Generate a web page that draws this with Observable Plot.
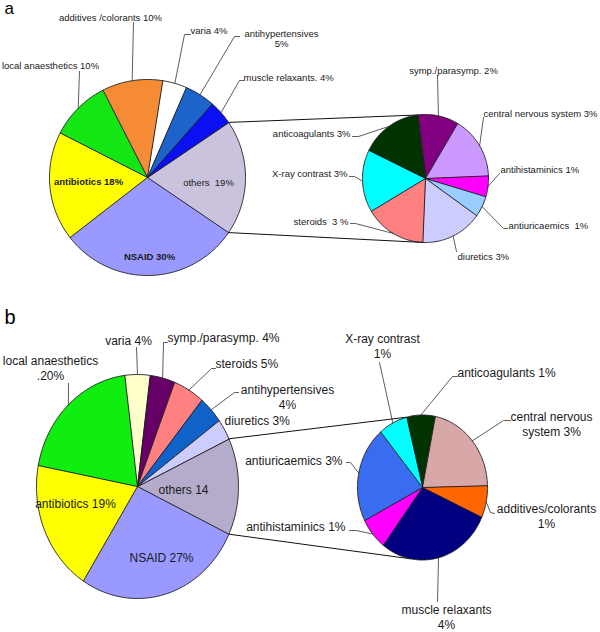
<!DOCTYPE html>
<html><head><meta charset="utf-8">
<script src="https://cdn.jsdelivr.net/npm/d3@7"></script>
<script src="https://cdn.jsdelivr.net/npm/@observablehq/plot@0.6"></script>
<style>html,body{margin:0;padding:0;background:#fff}</style>
</head><body><div id="chart"></div>
<script>
// ---------------- DATA ----------------
// Panel a – main pie (clockwise, starting with "others")
const aMainCategories = ["others","NSAID","antibiotics","local anaesthetics","additives/colorants","varia","antihypertensives","muscle relaxants"];
const aMainValues = [19,30,18,10,10,4,5,4];
const aMainLabels = ["others  19%","NSAID 30%","antibiotics 18%","local anaesthetics 10%","additives /colorants 10%","varia 4%","antihypertensives\n5%","muscle relaxants. 4%"];
// Panel a – secondary pie (breakdown of "others")
const aSubCategories = ["symp./parasymp.","central nervous system","antihistaminics","antiuricaemics","diuretics","steroids","X-ray contrast","anticoagulants"];
const aSubValues = [2,3,1,1,3,3,3,3];
const aSubLabels = ["symp./parasymp. 2%","central nervous system 3%","antihistaminics 1%","antiuricaemics  1%","diuretics 3%","steroids  3 %","X-ray contrast 3%","anticoagulants 3%"];
// Panel b – main pie
const bMainCategories = ["others","NSAID","antibiotics","local anaesthetics","varia","symp./parasymp.","steroids","antihypertensives","diuretics"];
const bMainValues = [14,27,19,20,4,4,5,4,3];
const bMainLabels = ["others 14","NSAID 27%","antibiotics 19%","local anaesthetics\n.20%","varia 4%","symp./parasymp. 4%","steroids 5%","antihypertensives\n4%","diuretics 3%"];
// Panel b – secondary pie
const bSubCategories = ["anticoagulants","central nervous system","additives/colorants","muscle relaxants","antihistaminics","antiuricaemics","X-ray contrast"];
const bSubValues = [1,3,1,4,1,3,1];
const bSubLabels = ["anticoagulants 1%","central nervous\nsystem 3%","additives/colorants\n1%","muscle relaxants\n4%","antihistaminics 1%","antiuricaemics 3%","X-ray contrast\n1%"];

// ---------------- STYLES ----------------
const aMainColors = ["#CBC3DD","#9999FF","#FFFF00","#14E614","#F68B35","#FFFFFF","#1C64C9","#0A10F2"];
const aSubColors  = ["#800080","#CC99FF","#FF00FF","#99CCFF","#CCCCFF","#FF8080","#00FFFF","#003300"];
const bMainColors = ["#B4ACCA","#9999FF","#FFFF00","#10EE10","#FFFFCC","#660066","#FF8080","#0F62C8","#CCCCFF"];
const bSubColors  = ["#003300","#D8A8A8","#FF6600","#000080","#FF00FF","#3A6CF2","#00FFFF"];

// geometry (pixels) – main pies put "others" centred on the right
const geom = {
  aMain: {cx:147, cy:177, rx:98, ry:98},
  aSub:  {cx:425, cy:178, rx:63, ry:64, start:-7.1},
  bMain: {cx:137, cy:486, rx:101, ry:112},
  bSub:  {cx:422, cy:487, rx:65, ry:72.5, start:-14.3}
};

// label layout: [x, y, anchor, bold, leader points (label side)]
const aMainLayout = [
  [208,182,"middle",false,null],
  [149,256,"middle",true,null],
  [88,181,"middle",true,null],
  [50,65,"middle",false,[[79,71]]],
  [110,17,"middle",false,[[133,22]]],
  [190,30,"start",false,[[190,34],[184,34]]],
  [281,38,"middle",false,[[239,36],[234,36]]],
  [243,77,"start",false,[[243,80],[239,80]]]
];
const aSubLayout = [
  [453,70,"middle",false,[[437,75]]],
  [483,113,"start",false,[[483,117]]],
  [500,169,"start",false,[[499,173]]],
  [508,225,"start",false,[[507,228],[503,228]]],
  [457,256,"start",false,[[456,251]]],
  [348,221,"end",false,[[350,223],[355,223]]],
  [347,173,"end",false,[[349,176],[354,176]]],
  [350,133,"end",false,[[352,136],[358,136]]]
];
const bMainLayout = [
  [183,489,"middle",false,null],
  [161,557,"middle",false,null],
  [75,503,"middle",false,null],
  [50,367,"middle",false,[[68,383]]],
  [128,340,"middle",false,[[136,347]]],
  [167,337,"start",false,[[167,342],[163,342]]],
  [215,363,"start",false,[[215,368],[211,368]]],
  [287,396,"middle",false,[[238,392],[234,392]]],
  [224,420,"start",false,null]
];
const bSubLayout = [
  [457,372,"start",false,[[457,376],[452,376]]],
  [551,423,"middle",false,[[510,420],[503,420]]],
  [546,515,"middle",false,[[494,513],[490,512]]],
  [446,616,"middle",false,[[437,601]]],
  [345,526,"end",false,[[349,530],[356,530]]],
  [342,460,"end",false,[[346,462],[350,462]]],
  [382,345,"middle",false,[[379,362]]]
];

// ---------------- BUILD ----------------
const rad = Math.PI/180;
function rim(g, deg) { return [g.cx + g.rx*Math.sin(deg*rad), g.cy - g.ry*Math.cos(deg*rad)]; }

const slices = [], labels = [], leaders = [], angles = {};
function buildPie(id, cats, vals, labs, cols, layout, fs, lh) {
  const g = geom[id];
  const total = d3.sum(vals);
  let a = g.start !== undefined ? g.start : 90 - vals[0]/total*180;
  angles[id] = [];
  cats.forEach((c, i) => {
    const span = vals[i]/total*360, a0 = a, a1 = a + span; a = a1;
    angles[id].push([a0, a1]);
    const key = id + ":" + c;
    slices.push({key, x:g.cx, y:g.cy, fill:cols[i]});
    const n = Math.max(4, Math.ceil(span));
    for (let k = 0; k <= n; k++) {
      const [x, y] = rim(g, a0 + (a1 - a0)*k/n);
      slices.push({key, x, y, fill:cols[i]});
    }
    const L = layout[i];
    labels.push({text:labs[i], x:L[0], y:L[1], anchor:L[2], bold:L[3], fs, lh});
    if (L[4]) {
      L[4].forEach(p => leaders.push({key, x:p[0], y:p[1]}));
      const [x, y] = rim(g, (a0 + a1)/2);
      leaders.push({key, x, y});
    }
  });
}
buildPie("aMain", aMainCategories, aMainValues, aMainLabels, aMainColors, aMainLayout, 9.5, 1.05);
buildPie("aSub", aSubCategories, aSubValues, aSubLabels, aSubColors, aSubLayout, 9.5, 1.05);
buildPie("bMain", bMainCategories, bMainValues, bMainLabels, bMainColors, bMainLayout, 12, 1.25);
buildPie("bSub", bSubCategories, bSubValues, bSubLabels, bSubColors, bSubLayout, 12, 1.25);

// connector lines between main "others" slice and secondary pie
function connectors(mainId, subId, topAngle, bottomAngle) {
  const [o0, o1] = angles[mainId][0];
  const p1 = rim(geom[mainId], o0), q1 = rim(geom[subId], topAngle);
  const p2 = rim(geom[mainId], o1), q2 = rim(geom[subId], bottomAngle);
  return [{x1:p1[0],y1:p1[1],x2:q1[0],y2:q1[1]},{x1:p2[0],y1:p2[1],x2:q2[0],y2:q2[1]}];
}
const links = [...connectors("aMain","aSub",-7.1,182), ...connectors("bMain","bSub",-14.3,190)];

// text marks grouped by anchor/weight/size
const groups = d3.groups(labels, d => [d.anchor, d.bold, d.fs, d.lh].join("|"));
const textMarks = groups.map(([k, rows]) => Plot.text(rows, {
  x:"x", y:"y", text:"text", textAnchor: rows[0].anchor, fontWeight: rows[0].bold ? "bold" : "normal",
  fontSize: rows[0].fs, lineHeight: rows[0].lh, lineAnchor:"middle", fill:"#1a1a1a"
}));

const panelLetters = [{t:"a", x:4, y:13, fs:17}, {t:"b", x:4, y:323, fs:20}];

const chart = Plot.plot({
  width:600, height:632, margin:0,
  x:{domain:[0,600], range:[0,600], axis:null},
  y:{domain:[0,632], range:[0,632], axis:null},
  color:{type:"identity"},
  style:{fontFamily:"'Liberation Sans', Arial, sans-serif", background:"#fff"},
  marks:[
    Plot.line(slices, {x:"x", y:"y", z:"key", fill:"fill", stroke:"#1e1e1e", strokeWidth:0.9, curve:"linear-closed", strokeLinejoin:"round"}),
    Plot.line(leaders, {x:"x", y:"y", z:"key", stroke:"#333", strokeWidth:0.8, curve:"linear"}),
    Plot.link(links, {x1:"x1", y1:"y1", x2:"x2", y2:"y2", stroke:"#111", strokeWidth:1}),
    ...textMarks,
    Plot.text(panelLetters.slice(0,1), {x:"x", y:"y", text:"t", fontSize:17, textAnchor:"start", lineAnchor:"bottom", fill:"#000"}),
    Plot.text(panelLetters.slice(1), {x:"x", y:"y", text:"t", fontSize:20, textAnchor:"start", lineAnchor:"bottom", fill:"#000"})
  ]
});
document.getElementById("chart").appendChild(chart);
</script>
</body></html>
